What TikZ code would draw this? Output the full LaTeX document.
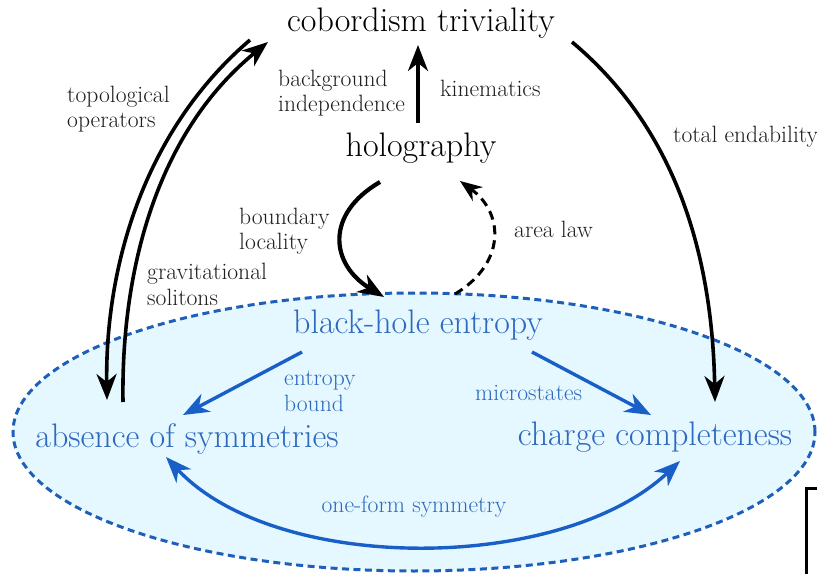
\documentclass[tikz,border=0pt]{standalone}
\usetikzlibrary{arrows.meta}
\definecolor{bluetext}{RGB}{45,105,190}
\definecolor{bluearr}{RGB}{25,95,200}
\definecolor{ellfill}{RGB}{230,248,255}
\definecolor{elldash}{RGB}{30,95,185}
\definecolor{inkgray}{RGB}{30,30,30}
\begin{document}
\begin{tikzpicture}[x=1pt,y=1pt,
  big/.style={font=\fontsize{34}{40}\selectfont, inner sep=0pt, anchor=base},
  small/.style={font=\fontsize{23.6}{25.5}\selectfont, inner sep=0pt, align=left, anchor=base west, text=inkgray},
  bluesmall/.style={small, text=bluetext},
  tipshape/.style={-{Stealth[length=26pt,width=20pt,inset=8pt]}},
  blk/.style={line width=3.6pt, tipshape},
  bluearrow/.style={draw=bluearr, line width=3.4pt, tipshape},
  bluedouble/.style={draw=bluearr, line width=3.4pt, {Stealth[length=26pt,width=20pt,inset=8pt]}-{Stealth[length=26pt,width=20pt,inset=8pt]}},
  dashedarrow/.style={line width=3pt, dash pattern=on 9pt off 6pt, -{Stealth[length=22pt,width=17pt,inset=7pt]}}
]
\useasboundingbox (0,0) rectangle (817,574);
% bubble
\path[draw=elldash, fill=ellfill, line width=3pt, dash pattern=on 7pt off 4.5pt]
  (414,142) ellipse [x radius=401, y radius=139];

% main nodes
\node[big] (cob) at (421,542) {cobordism triviality};
\node[big] (holo) at (421,417) {holography};
\node[big, text=bluetext] (bhe) at (418,241) {black-hole entropy};
\node[big, text=bluetext] (abs) at (187,127) {absence of symmetries};
\node[big, text=bluetext] (chg) at (655,129) {charge completeness};

% labels (base anchor = baseline of the last line)
\node[small] (ltop) at (67,446) {topological\\operators};
\node[small] (lbg) at (278,462) {background\\independence};
\node[small] (lkin) at (440,477) {kinematics};
\node[small] (lbl) at (239,324) {boundary\\locality};
\node[small] (lgrav) at (147,269) {gravitational\\solitons};
\node[small] (larea) at (514,336) {area law};
\node[small] (ltot) at (673,431) {total endability};
\node[bluesmall] (lent) at (284,163) {entropy\\bound};
\node[bluesmall] (lmic) at (475,174) {microstates};
\node[bluesmall, anchor=base] (lone) at (414,62) {one-form symmetry};

% connector endpoints
\coordinate (kinS) at (418,451);
\coordinate (kinE) at (418,529);
\coordinate (topS) at (250,534);
\coordinate (topE) at (107,174);
\coordinate (gravS) at (123,172);
\coordinate (gravE) at (268,532);
\coordinate (bdyS) at (380,392);
\coordinate (bdyE) at (384,277);
\coordinate (areaS) at (455,280);
\coordinate (areaE) at (460,393);
\coordinate (totS) at (572,532);
\coordinate (totE) at (715,172);
\coordinate (entS) at (302,222);
\coordinate (entE) at (183,159);
\coordinate (micS) at (532,222);
\coordinate (micE) at (651,159);
\coordinate (oneA) at (166,117);
\coordinate (oneB) at (680,113);

% black connectors
\draw[blk] (kinS) -- (kinE);
\draw[blk] (topS) .. controls (140,440) and (105,300) .. (topE);
\draw[blk] (gravS) .. controls (121,300) and (155,440) .. (gravE);
\draw[blk, line width=4.2pt] (bdyS) .. controls (325,360) and (330,310) .. (bdyE);
\draw[dashedarrow] (areaS) .. controls (505,310) and (505,360) .. (areaE);
\draw[blk] (totS) .. controls (670,450) and (712,330) .. (totE);

% blue connectors
\draw[bluearrow] (entS) -- (entE);
\draw[bluearrow] (micS) -- (micE);
\draw[bluedouble] (oneA) .. controls (275,0) and (560,0) .. (oneB);

% partial frame at bottom right
\draw[line width=3pt] (817,86) -- (806,86) -- (806,0);
\end{tikzpicture}
\end{document}
